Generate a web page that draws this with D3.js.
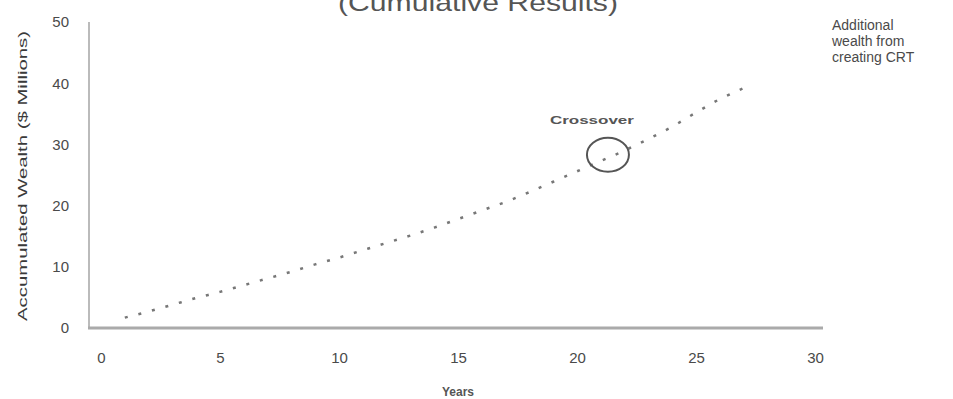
<!DOCTYPE html>
<html>
<head>
<meta charset="utf-8">
<script src="https://cdn.jsdelivr.net/npm/d3@7"></script>
<style>
  html, body { margin: 0; padding: 0; background: #fff; }
  svg { display: block; font-family: "Liberation Sans", Arial, sans-serif; }
</style>
</head>
<body>
<svg id="chart" width="953" height="399"></svg>
<script>
// ---- data ----
const years  = [1,2,3,4,5,6,7,8,9,10,11,12,13,14,15,16,17,18,19,20,21,22,23,24,25,26,27];
const wealth = [1.7,2.7,3.8,4.9,5.9,7.0,8.1,9.2,10.4,11.5,12.7,13.9,15.1,16.4,17.8,19.2,20.6,22.2,23.9,25.6,27.3,29.0,30.9,32.9,35.2,37.4,39.2];
const xTicks = [0,5,10,15,20,25,30];
const yTicks = [0,10,20,30,40,50];
const crossover = [{ year: 21.3, value: 28.3, label: "Crossover" }];
const noteLines = ["Additional", "wealth from", "creating CRT"];
const titleText = "(Cumulative Results)";
const xTitle = "Years";
const yTitle = "Accumulated Wealth ($ Millions)";

// ---- chart ----
const svg = d3.select("#chart");
const x = d3.scaleLinear().domain([0, 30]).range([101, 815]);
const y = d3.scaleLinear().domain([0, 50]).range([328, 22]);

// title (top cut off as in the reference)
svg.append("text")
  .attr("x", 478).attr("y", 11)
  .attr("text-anchor", "middle")
  .attr("font-size", 24)
  .attr("fill", "#555")
  .attr("textLength", 280).attr("lengthAdjust", "spacingAndGlyphs")
  .text(titleText);

// axis lines
svg.append("line")
  .attr("x1", 89).attr("x2", 89).attr("y1", y(50)).attr("y2", y(0))
  .attr("stroke", "#bbb").attr("stroke-width", 2);
svg.append("line")
  .attr("x1", 88).attr("x2", 823).attr("y1", y(0)).attr("y2", y(0))
  .attr("stroke", "#aaa").attr("stroke-width", 3);

// x axis labels
const gx = svg.append("g").attr("transform", `translate(0,${y(0)})`)
  .call(d3.axisBottom(x).tickValues(xTicks).tickSize(0).tickPadding(24));
gx.select(".domain").remove();
gx.selectAll("text").attr("font-size", 15).attr("fill", "#4a4a4a")
  .attr("font-family", "Liberation Sans, Arial, sans-serif");

// y axis labels
const gy = svg.append("g").attr("transform", `translate(89,0)`)
  .call(d3.axisLeft(y).tickValues(yTicks).tickSize(0).tickPadding(20));
gy.select(".domain").remove();
gy.selectAll("text").attr("font-size", 15).attr("fill", "#4a4a4a")
  .attr("font-family", "Liberation Sans, Arial, sans-serif");

// axis titles
svg.append("text")
  .attr("x", 458).attr("y", 396)
  .attr("text-anchor", "middle")
  .attr("font-size", 12).attr("font-weight", "bold").attr("fill", "#555")
  .text(xTitle);
svg.append("text")
  .attr("transform", "translate(27,176) rotate(-90)")
  .attr("text-anchor", "middle")
  .attr("font-size", 13).attr("fill", "#3a3a3a")
  .attr("textLength", 290).attr("lengthAdjust", "spacingAndGlyphs")
  .text(yTitle);

// dotted wealth line
const pts = years.map((d, i) => ({ year: d, value: wealth[i] }));
svg.append("path")
  .datum(pts)
  .attr("fill", "none")
  .attr("stroke", "#777")
  .attr("stroke-width", 2.5)
  .attr("stroke-dasharray", "3,11")
  .attr("d", d3.line().x(d => x(d.year)).y(d => y(d.value)).curve(d3.curveMonotoneX));

// crossover marker
const cg = svg.selectAll(".cross").data(crossover).enter().append("g").attr("class", "cross");
cg.append("ellipse")
  .attr("cx", d => x(d.year)).attr("cy", d => y(d.value))
  .attr("rx", 21).attr("ry", 17)
  .attr("fill", "none").attr("stroke", "#555").attr("stroke-width", 2);
cg.append("text")
  .attr("x", d => x(d.year) - 16).attr("y", d => y(d.value) - 31)
  .attr("text-anchor", "middle")
  .attr("font-size", 11).attr("font-weight", "bold").attr("fill", "#555")
  .attr("textLength", 84).attr("lengthAdjust", "spacingAndGlyphs")
  .text(d => d.label);

// side note
svg.append("text")
  .attr("x", 832).attr("y", 30)
  .attr("font-size", 14).attr("fill", "#4a4a4a")
  .selectAll("tspan").data(noteLines).enter().append("tspan")
  .attr("x", 832).attr("dy", (d, i) => i === 0 ? 0 : 16)
  .text(d => d);
</script>
</body>
</html>
